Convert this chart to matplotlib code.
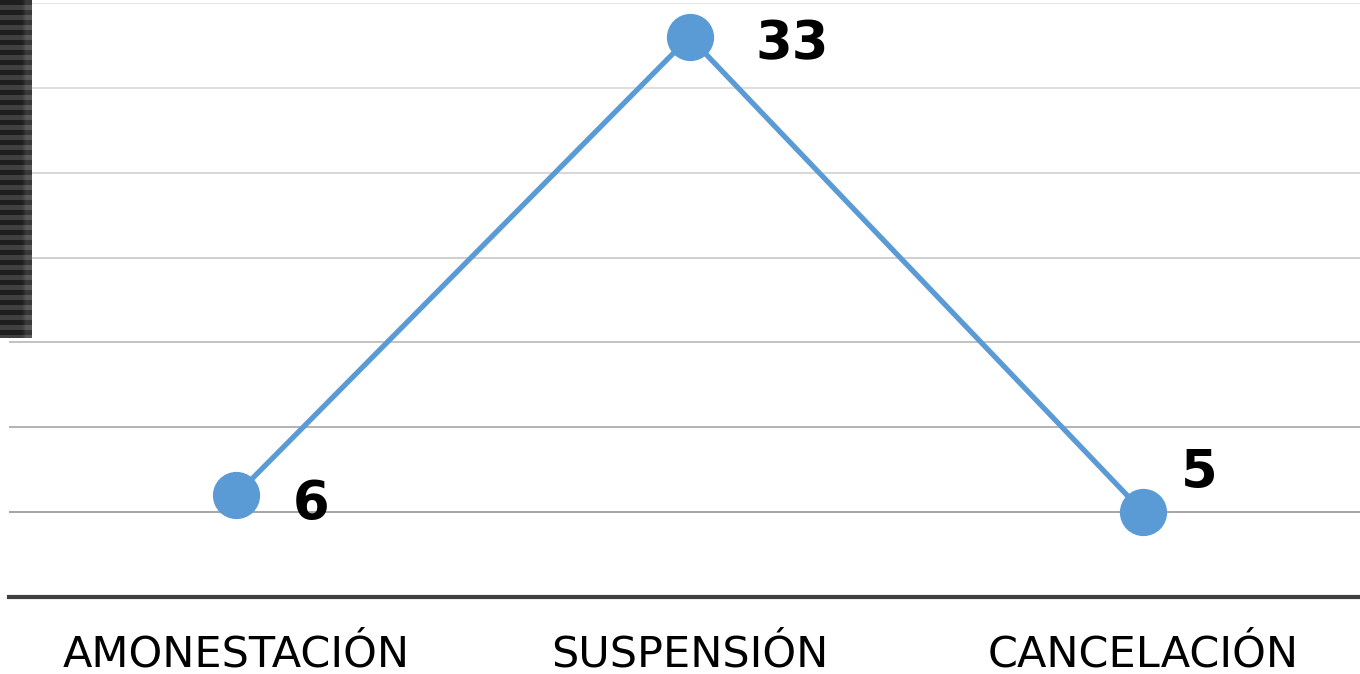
import matplotlib
matplotlib.use("Agg")
import matplotlib.pyplot as plt
import numpy as np

categorias = ["AMONESTACIÓN", "SUSPENSIÓN", "CANCELACIÓN"]
valores = [6, 33, 5]
niveles = [5, 10, 15, 20, 25, 30, 35]
colores_grid = ["#9e9e9e", "#acacac", "#bdbdbd", "#cccccc", "#d4d4d4", "#dcdcdc", "#e2e2e2"]

W, H = 1360, 674
fig = plt.figure(figsize=(W / 100, H / 100), dpi=100)
ax = fig.add_axes([9 / W, (H - 597) / H, 1361 / W, 594 / H])

x = np.arange(len(categorias))
for nivel, c in zip(niveles, colores_grid):
    ax.axhline(nivel, color=c, lw=1.3, zorder=1)

ax.plot(x, valores, color="#5b9bd5", lw=3.8, marker="o", markersize=33, zorder=3)

# etiquetas de datos
offsets = [(54, -6), (74, -5), (40, 28)]
for xi, v, off in zip(x, valores, offsets):
    ax.annotate(str(v), (xi, v), xytext=off, textcoords="offset points",
                ha="center", va="center", fontsize=38, fontweight="bold", color="black")

ax.set_xlim(-0.5, 2.5)
ax.set_ylim(0, 35)
ax.set_yticks([])
ax.set_xticks(x)
ax.set_xticklabels(categorias, fontsize=31)
ax.tick_params(axis="x", length=0, pad=26)
for s in ["top", "right", "left"]:
    ax.spines[s].set_visible(False)
ax.spines["bottom"].set_color("#404040")
ax.spines["bottom"].set_linewidth(3)

# barra oscura a rayas en el borde izquierdo
bx = fig.add_axes([0, (H - 338) / H, 32 / W, 338 / H])
rayas = np.array([[0.12 if (i // 5) % 2 == 0 else 0.25] * 8 for i in range(338)])
rayas[:, -2:] += 0.1
bx.imshow(rayas, cmap="gray", vmin=0, vmax=1, aspect="auto", interpolation="bilinear")
bx.axis("off")

fig.savefig("out.png", dpi=100)
